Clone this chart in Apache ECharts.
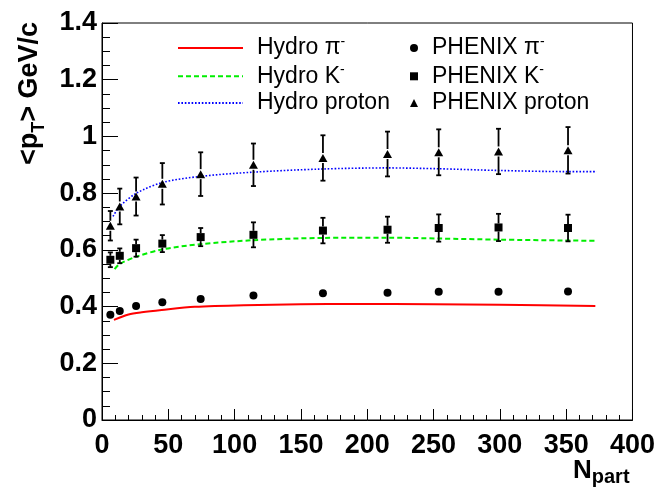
<!DOCTYPE html>
<html>
<head>
<meta charset="utf-8">
<script src="https://cdn.jsdelivr.net/npm/echarts@6/dist/echarts.min.js"></script>
<style>
  html, body { margin: 0; padding: 0; background: #fff; }
  #chart { width: 658px; height: 487px; }
</style>
</head>
<body>
<div id="chart"></div>
<script>
// Centrality classes (number of participants)
const nPart = [6.3, 13.4, 25.7, 45.5, 74.4, 114.2, 166.6, 215.3, 253.9, 299.0, 351.4];

// PHENIX mean pT (GeV/c) with errors
const phenixPi = [0.371, 0.384, 0.402, 0.415, 0.427, 0.439, 0.447, 0.449, 0.452, 0.452, 0.453];
const phenixK = [0.565, 0.579, 0.606, 0.622, 0.645, 0.653, 0.668, 0.671, 0.677, 0.679, 0.677];
const phenixKErr = [0.026, 0.026, 0.030, 0.030, 0.032, 0.044, 0.045, 0.046, 0.048, 0.048, 0.047];
const phenixP = [0.685, 0.753, 0.788, 0.833, 0.867, 0.900, 0.924, 0.938, 0.944, 0.947, 0.951];
const phenixPErr = [0.052, 0.063, 0.067, 0.073, 0.077, 0.075, 0.080, 0.079, 0.081, 0.080, 0.082];

// Hydrodynamic calculation
const hydroPiN = [9, 20, 30, 45, 70, 107, 150, 190, 250, 300, 372];
const hydroPi = [0.353, 0.372, 0.380, 0.388, 0.399, 0.405, 0.408, 0.409, 0.408, 0.406, 0.402];
const hydroKN = [9.5, 13.3, 26, 46, 74, 114, 165, 215, 254, 299, 350, 373];
const hydroK = [0.532, 0.550, 0.576, 0.602, 0.620, 0.634, 0.642, 0.643, 0.640, 0.636, 0.633, 0.632];
const hydroPN = [8.3, 13.3, 26, 46, 74, 114, 165, 215, 254, 299, 350, 373];
const hydroP = [0.718, 0.753, 0.800, 0.838, 0.859, 0.874, 0.885, 0.889, 0.886, 0.880, 0.876, 0.876];

// Axis ticks
const xTicks = { min: 0, max: 400, step: 50 };
const yTicks = { min: 0, max: 1.4, step: 0.2 };

const FONT = 'Liberation Sans, Arial, sans-serif';
const pairs = (xs, ys) => xs.map((x, i) => [x, ys[i]]);

// Vertical error bars with end caps, leaving a gap around the marker
function errorBars(name, vals, errs, gap) {
  return {
    name: name + ' err',
    type: 'custom',
    silent: true,
    z: 3,
    data: nPart.map((n, i) => [n, vals[i] - errs[i], vals[i], vals[i] + errs[i]]),
    renderItem(params, api) {
      const lo = api.coord([api.value(0), api.value(1)]);
      const mid = api.coord([api.value(0), api.value(2)]);
      const hi = api.coord([api.value(0), api.value(3)]);
      const x = mid[0];
      const cap = 2.5;
      const style = { stroke: '#000', lineWidth: 1.8 };
      return {
        type: 'group',
        children: [
          { type: 'line', shape: { x1: x, y1: hi[1], x2: x, y2: mid[1] - gap }, style },
          { type: 'line', shape: { x1: x, y1: mid[1] + gap, x2: x, y2: lo[1] }, style },
          { type: 'line', shape: { x1: x - cap, y1: hi[1], x2: x + cap, y2: hi[1] }, style },
          { type: 'line', shape: { x1: x - cap, y1: lo[1], x2: x + cap, y2: lo[1] }, style }
        ]
      };
    }
  };
}

const legendText = {
  fontFamily: FONT,
  fontSize: 23,
  color: '#000',
  rich: {
    g: { width: 9 },
    t: { fontSize: 23, lineHeight: 26, fontFamily: FONT },
    sup: { fontSize: 14, lineHeight: 14, verticalAlign: 'top', fontFamily: FONT }
  }
};
function legendLabel(name) {
  const m = name.match(/^(.*)-$/);
  return m ? '{g|}{t|' + m[1] + '}{sup|-}' : '{g|}{t|' + name + '}';
}

const chart = echarts.init(document.getElementById('chart'), null, { renderer: 'canvas' });

chart.setOption({
  animation: false,
  backgroundColor: '#fff',
  grid: {
    left: 102, right: 24, top: 23, bottom: 67,
    show: true, borderColor: '#000', borderWidth: 1, backgroundColor: 'transparent'
  },
  xAxis: {
    type: 'value',
    min: xTicks.min, max: xTicks.max, interval: xTicks.step,
    axisLine: { show: true, onZero: false, lineStyle: { color: '#000', width: 1 } },
    axisTick: { show: true, inside: true, length: 11, lineStyle: { color: '#000', width: 1 } },
    minorTick: { show: true, splitNumber: 5, length: 5, lineStyle: { color: '#000', width: 1 } },
    splitLine: { show: false },
    axisLabel: { margin: 12, color: '#000', fontSize: 27, fontWeight: 'bold', fontFamily: FONT }
  },
  yAxis: {
    type: 'value',
    min: yTicks.min, max: yTicks.max, interval: yTicks.step,
    axisLine: { show: true, onZero: false, lineStyle: { color: '#000', width: 1 } },
    axisTick: { show: true, inside: true, length: 16, lineStyle: { color: '#000', width: 1 } },
    minorTick: { show: true, splitNumber: 4, length: 8, lineStyle: { color: '#000', width: 1 } },
    splitLine: { show: false },
    axisLabel: {
      margin: 5, color: '#000', fontSize: 27, fontWeight: 'bold', fontFamily: FONT,
      formatter: v => String(Math.round(v * 10) / 10)
    }
  },
  legend: [
    {
      orient: 'vertical', left: 177, top: 35, padding: 0,
      itemWidth: 65, itemHeight: 12, itemGap: 3.8,
      itemStyle: { opacity: 0 },
      data: ['Hydro π-', 'Hydro K-', 'Hydro proton'],
      textStyle: legendText, formatter: legendLabel,
      selectedMode: false
    },
    {
      orient: 'vertical', left: 410, top: 35, padding: 0,
      itemWidth: 8, itemHeight: 8, itemGap: 3.8,
      data: ['PHENIX π-', 'PHENIX K-', 'PHENIX proton'],
      textStyle: legendText, formatter: legendLabel,
      selectedMode: false
    }
  ],
  graphic: [
    {
      type: 'text', x: 30, y: 22, rotation: Math.PI / 2,
      style: {
        text: '{a|<p}{s|T}{a|> GeV/c}',
        align: 'right', verticalAlign: 'middle',
        rich: {
          a: { fontSize: 27, fontWeight: 'bold', lineHeight: 36, fontFamily: FONT, fill: '#000' },
          s: { fontSize: 18, fontWeight: 'bold', lineHeight: 18, verticalAlign: 'bottom', fontFamily: FONT, fill: '#000' }
        }
      }
    },
    {
      type: 'text', x: 573, y: 455,
      style: {
        text: '{n|N}{s|part}',
        align: 'left', verticalAlign: 'top',
        rich: {
          n: { fontSize: 26, fontWeight: 'bold', lineHeight: 32, fontFamily: FONT, fill: '#000' },
          s: { fontSize: 20, fontWeight: 'bold', lineHeight: 20, verticalAlign: 'bottom', fontFamily: FONT, fill: '#000' }
        }
      }
    }
  ],
  series: [
    {
      name: 'Hydro π-', type: 'line', data: pairs(hydroPiN, hydroPi),
      smooth: 0.3, symbol: 'none', showSymbol: false, z: 2,
      lineStyle: { color: '#ff0000', width: 2 }, itemStyle: { color: '#ff0000' }
    },
    {
      name: 'Hydro K-', type: 'line', data: pairs(hydroKN, hydroK),
      smooth: 0.3, symbol: 'none', showSymbol: false, z: 2,
      lineStyle: { color: '#00ee00', width: 2, type: [5, 3] }, itemStyle: { color: '#00ee00' }
    },
    {
      name: 'Hydro proton', type: 'line', data: pairs(hydroPN, hydroP),
      smooth: 0.3, symbol: 'none', showSymbol: false, z: 2,
      lineStyle: { color: '#0000ff', width: 1.6, type: [1.6, 1.8] }, itemStyle: { color: '#0000ff' }
    },
    errorBars('PHENIX K-', phenixK, phenixKErr, 4),
    errorBars('PHENIX proton', phenixP, phenixPErr, 5),
    {
      name: 'PHENIX π-', type: 'scatter', data: pairs(nPart, phenixPi),
      symbol: 'circle', symbolSize: 8, z: 4, itemStyle: { color: '#000', opacity: 1 }
    },
    {
      name: 'PHENIX K-', type: 'scatter', data: pairs(nPart, phenixK),
      symbol: 'rect', symbolSize: 8, z: 4, itemStyle: { color: '#000', opacity: 1 }
    },
    {
      name: 'PHENIX proton', type: 'scatter', data: pairs(nPart, phenixP),
      symbol: 'triangle', symbolSize: [9, 8], z: 4, itemStyle: { color: '#000', opacity: 1 }
    }
  ]
});
</script>
</body>
</html>
